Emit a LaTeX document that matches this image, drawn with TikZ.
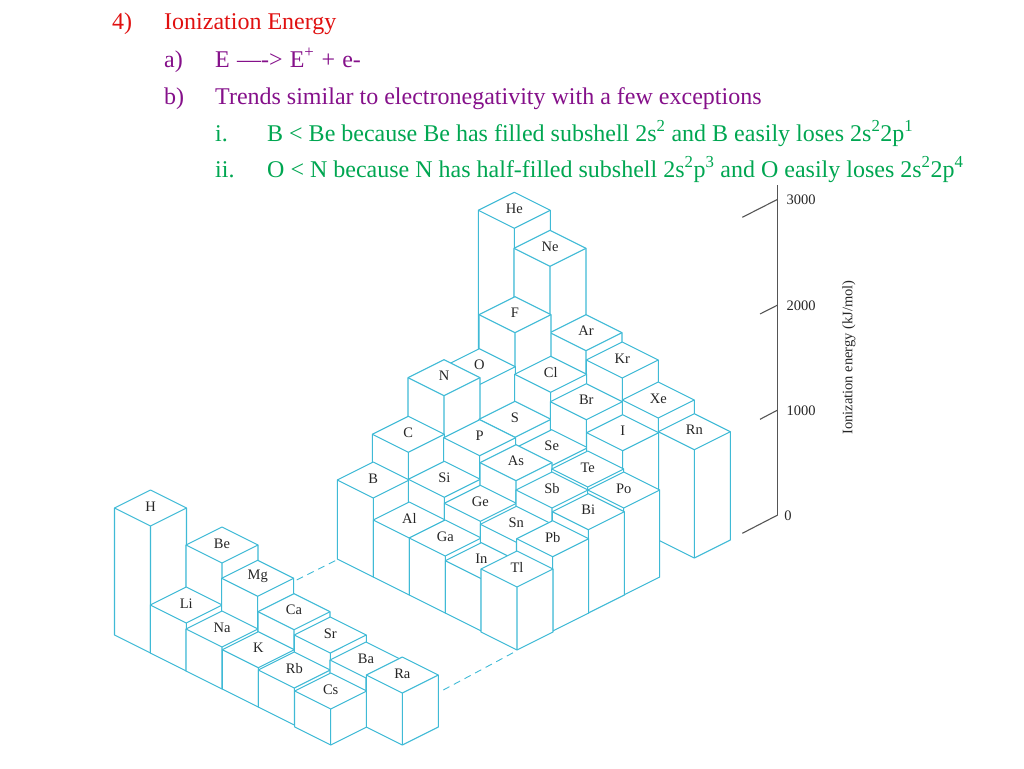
\documentclass[tikz,border=0pt]{standalone}
\usepackage{fontspec}
\setmainfont{Liberation Serif}
\definecolor{cyanline}{HTML}{3FBAD6}
\definecolor{axisgray}{HTML}{555555}
\definecolor{headred}{HTML}{E01010}
\definecolor{subpurple}{HTML}{85108A}
\definecolor{itemgreen}{HTML}{00A651}
\newcommand{\elemcol}[4]{%
  % name, cx, cy, base y of the front edge
  \fill[white] (#2-36,#3) -- (#2,#3-18) -- (#2+36,#3) -- (#2+36,#4-18) -- (#2,#4) -- (#2-36,#4-18) -- cycle;
  \draw[cell] (#2-36,#3) -- (#2,#3-18) -- (#2+36,#3) -- (#2+36,#4-18) -- (#2,#4) -- (#2-36,#4-18) -- cycle;
  \draw[cell] (#2-36,#3) -- (#2,#3+18) -- (#2+36,#3) (#2,#3+18) -- (#2,#4);
  \coordinate (c#1) at (#2,#3);
}
\newcommand{\elemlabel}[3]{\node[elem] (n#1) at ($(c#1)+(#2,#3)$) {#1};}
\usetikzlibrary{calc}
\tikzset{
  cell/.style={draw=cyanline,line width=1.05pt,line join=round},
  elem/.style={font=\fontsize{14.5}{16}\selectfont,text=black!85,inner sep=0pt},
  axisline/.style={draw=axisgray,line width=1.1pt},
  scalelab/.style={font=\fontsize{14.5}{16}\selectfont,text=black!85,inner sep=0pt},
  head/.style={anchor=base west,inner sep=0pt,font=\fontsize{24}{28}\selectfont},
}
\begin{document}
\begin{tikzpicture}[x=1pt,y=-1pt]
\useasboundingbox (0,0) rectangle (1024,768);
% heading
\node[head,text=headred] (t1a) at (112,30) {4)};
\node[head,text=headred] (t1b) at (164,30) {Ionization Energy};
\node[head,text=subpurple] (t2a) at (164,67) {a)};
\node[head,text=subpurple] (t2b) at (215,67) {E\hspace{0.3em}---{}->\hspace{0.3em}E\textsuperscript{+}\hspace{0.3em}+\hspace{0.3em}e-};
\node[head,text=subpurple] (t3a) at (164,104) {b)};
\node[head,text=subpurple] (t3b) at (215,104) {Trends similar to electronegativity with a few exceptions};
\node[head,text=itemgreen] (t4a) at (215,141) {i.};
\node[head,text=itemgreen] (t4b) at (267,141) {B < Be because Be has filled subshell 2s\textsuperscript{2} and B easily loses 2s\textsuperscript{2}2p\textsuperscript{1}};
\node[head,text=itemgreen] (t5a) at (215,177) {ii.};
\node[head,text=itemgreen] (t5b) at (267,177) {O < N because N has half-filled subshell 2s\textsuperscript{2}p\textsuperscript{3} and O easily loses 2s\textsuperscript{2}2p\textsuperscript{4}};
% axis
\coordinate (ax3) at (777.7,199.3);
\coordinate (ax2) at (777.7,305);
\coordinate (ax1) at (777.7,410);
\coordinate (ax0) at (777.7,515);
\coordinate (axtop) at (777.7,185);
\coordinate (tk3) at (742.3,217.3);
\coordinate (tk2) at (760,314);
\coordinate (tk1) at (760,419.3);
\coordinate (tk0) at (742.3,533.3);
\draw[axisline] (axtop) -- (ax0);
\draw[axisline] (tk3) -- (ax3);
\draw[axisline] (tk2) -- (ax2);
\draw[axisline] (tk1) -- (ax1);
\draw[axisline] (tk0) -- (ax0);
\node[scalelab] (l3) at (801,200) {3000};
\node[scalelab] (l2) at (801,305.5) {2000};
\node[scalelab] (l1) at (801,411) {1000};
\node[scalelab] (l0) at (788,516) {0};
\node[scalelab,rotate=90] (lab) at (849,357.5) {Ionization energy (kJ/mol)};
% columns, back to front
\elemcol{He}{514.3}{210.3}{468}
\elemcol{Ne}{550}{248.3}{486}
\elemcol{Ar}{586}{332.7}{504}
\elemcol{F}{515}{314.7}{505}
\elemcol{Kr}{622.3}{360}{522}
\elemcol{O}{479.3}{366.7}{523}
\elemcol{Cl}{550.7}{374.3}{523}
\elemcol{Xe}{658.3}{400}{540}
\elemcol{N}{444}{377.7}{541}
\elemcol{S}{515}{419.3}{541}
\elemcol{Br}{586.3}{401.7}{541}
\elemcol{Rn}{694.3}{431.7}{558}
\elemcol{C}{408.3}{434.3}{559}
\elemcol{P}{479.7}{437.7}{559}
\elemcol{Se}{551.7}{447.7}{559}
\elemcol{I}{622.7}{432.7}{559}
\elemcol{B}{373.3}{480}{577}
\elemcol{Si}{444.3}{479.3}{577}
\elemcol{As}{516}{462.7}{577}
\elemcol{Te}{587.7}{469}{577}
\elemcol{Al}{409.3}{520}{595}
\elemcol{Ge}{480.3}{503.3}{595}
\elemcol{Sb}{552}{490}{595}
\elemcol{Po}{623.7}{490}{595}
\elemcol{Ga}{445.3}{538}{613}
\elemcol{Sn}{516.3}{524.3}{613}
\elemcol{Bi}{588.3}{511.7}{613}
\elemcol{In}{481.3}{560.7}{631}
\elemcol{Pb}{552.7}{538.7}{631}
\elemcol{Tl}{517}{569}{650}
\elemcol{H}{150.5}{508}{653}
\elemcol{Be}{222}{545}{653}
\elemcol{Li}{186.3}{605}{671}
\elemcol{Mg}{257.7}{578.3}{671}
\elemcol{Na}{222}{629}{689}
\elemcol{Ca}{294}{611.7}{689}
\elemcol{K}{258.3}{649.7}{707}
\elemcol{Sr}{330.3}{635}{707}
\elemcol{Rb}{294.3}{670}{725}
\elemcol{Ba}{366}{660}{725}
\elemcol{Cs}{330.7}{691}{745}
\elemcol{Ra}{402.3}{675}{745}
% dashed links
\coordinate (dashA) at (296.7,580);
\coordinate (dashB) at (336.7,560);
\coordinate (dashC) at (443.3,690);
\coordinate (dashD) at (515,651.7);
\draw[cell,dashed,dash pattern=on 7pt off 5pt,line width=0.9pt] (dashA) -- (dashB);
\draw[cell,dashed,dash pattern=on 7pt off 5pt,line width=0.9pt] (dashC) -- (dashD);
% labels
\foreach \e in {He,Ne,Ar,F,Kr,O,Cl,Xe,N,S,Br,Rn,C,P,Se,I,B,Si,As,Te,Al,Ge,Sb,Po,Ga,Sn,Bi,In,Pb,Tl,H,Be,Li,Mg,Na,Ca,K,Sr,Rb,Ba,Cs,Ra}{\elemlabel{\e}{0}{-1.5}}
\end{tikzpicture}
\end{document}
